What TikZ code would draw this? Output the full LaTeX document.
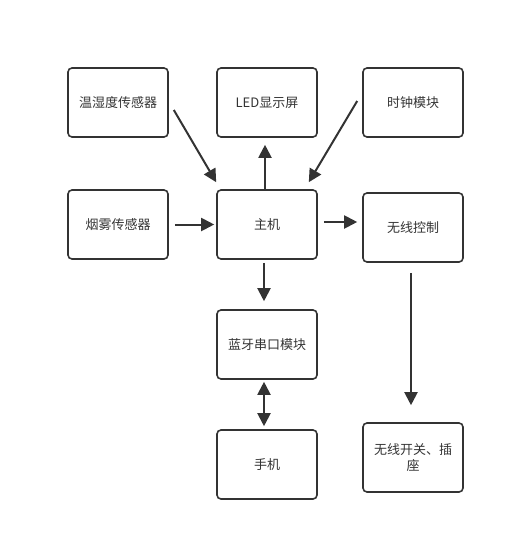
\documentclass[tikz,border=0pt]{standalone}
\usepackage{fontspec}
\setmainfont{Noto Sans CJK SC}
\usetikzlibrary{calc,arrows.meta}
\definecolor{linegray}{HTML}{333333}
\begin{document}
\begin{tikzpicture}[x=1pt,y=-1pt,
	box/.style={draw=linegray,line width=1.6pt,rounded corners=4pt,minimum width=100pt,minimum height=69pt,inner sep=0pt,align=center,text=linegray,font=\fontsize{13}{16}\selectfont},
	arr/.style={draw=linegray,line width=2pt,-{Triangle[length=13pt,width=13pt]}},
	dblarr/.style={draw=linegray,line width=2pt,{Triangle[length=13pt,width=13pt]}-{Triangle[length=13pt,width=13pt]}}]
	\useasboundingbox (0,0) rectangle (515,552);
	\node[box] (temp) at (118,102.5) {温湿度传感器};
	\node[box] (led) at (267,102.5) {LED显示屏};
	\node[box] (clock) at (413,102.5) {时钟模块};
	\node[box] (smoke) at (118,224.5) {烟雾传感器};
	\node[box] (host) at (267,224.5) {主机};
	\node[box] (wireless) at (413,227.5) {无线控制};
	\node[box] (bt) at (267,344.5) {蓝牙串口模块};
	\node[box] (phone) at (267,464.5) {手机};
	\node[box] (switch) at (413,457.5) {无线开关、插\\座};
	\draw[arr] ($(temp.east)+(5,7.5)$) -- ($(host.north west)+(0,-7)$);
	\draw[arr] ($(host.north)+(-2,0)$) -- ($(led.south)+(-2,7)$);
	\draw[arr] ($(clock.west)+(-5,-1.5)$) -- ($(host.north east)+(-9,-7)$);
	\draw[arr] ($(smoke.east)+(6,0)$) -- ($(host.west)+(-2,0)$);
	\draw[arr] ($(host.east)+(6,-2.5)$) -- ($(wireless.west)+(-5,-5.5)$);
	\draw[arr] ($(host.south)+(-3,3)$) -- ($(bt.north)+(-3,-8)$);
	\draw[dblarr] ($(bt.south)+(-3,2)$) -- ($(phone.north)+(-3,-3)$);
	\draw[arr] ($(wireless.south)+(-2,10)$) -- ($(switch.north)+(-2,-17)$);
\end{tikzpicture}
\end{document}
